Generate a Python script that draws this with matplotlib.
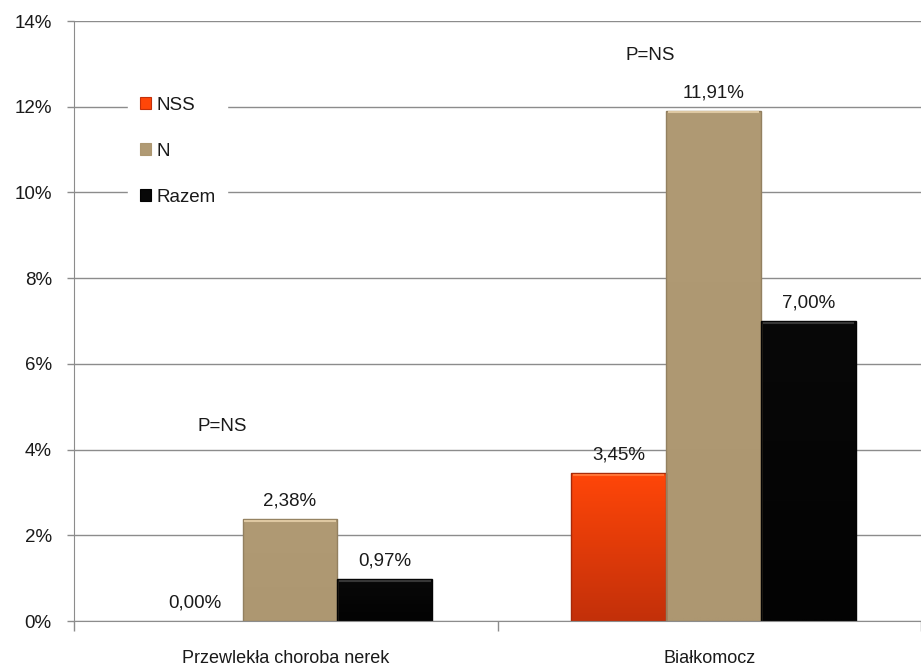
import numpy as np
import matplotlib
matplotlib.use("Agg")
import matplotlib.pyplot as plt
from matplotlib.patches import Rectangle
from matplotlib.colors import to_rgb

categories = ["Przewlekła choroba nerek", "Białkomocz"]
series_names = ["NSS", "N", "Razem"]
nss = [0.00, 3.45]
n_vals = [2.38, 11.91]
razem = [0.97, 7.00]
p_labels = ["P=NS", "P=NS"]
yticks = [0, 2, 4, 6, 8, 10, 12, 14]

plt.rcParams["font.family"] = ["Liberation Sans", "DejaVu Sans"]

# top / bottom colours for each series' vertical gradient
grad = {
    "NSS": ("#ff4608", "#c3300a"),
    "N": ("#b09a74", "#ad9771"),
    "Razem": ("#080808", "#030303"),
}
TXT = "#1a1a1a"
FS = 13.5

fig = plt.figure(figsize=(9.21, 6.68), dpi=100)
ax = fig.add_axes([74 / 921, 1 - 621 / 668, 1 - 74 / 921, (621 - 21) / 668])

bw = 0.224
shift = 0.01
offsets = [-bw + shift, shift, bw + shift]
x = np.arange(len(categories))


def gradient_bar(xc, h, name):
    top, bot = (np.array(to_rgb(c)) for c in grad[name])
    rect = Rectangle((xc - bw / 2, 0), bw, h, facecolor=top, edgecolor="none", zorder=3)
    ax.add_patch(rect)
    if h <= 0:
        return rect
    t = np.linspace(0, 1, 64)[:, None]
    img = top[None, :] * (1 - t) + bot[None, :] * t
    im = ax.imshow(img[:, None, :], extent=(xc - bw / 2, xc + bw / 2, 0, h), origin="upper",
                   aspect="auto", zorder=3.1, interpolation="bilinear")
    im.set_clip_path(rect)
    # bevelled rim
    ax.add_patch(Rectangle((xc - bw / 2, 0), bw, h, facecolor="none",
                           edgecolor=tuple(np.clip(bot * 0.85, 0, 1)), lw=1.0, zorder=3.3))
    ax.plot([xc - bw / 2 + 0.004, xc + bw / 2 - 0.004], [h - 0.04, h - 0.04],
            color=tuple(np.clip(top + 0.18, 0, 1)), lw=1.5, zorder=3.4, solid_capstyle="butt")
    return rect


for vals, name, off in zip([nss, n_vals, razem], series_names, offsets):
    for xi, v in zip(x, vals):
        gradient_bar(xi + off, v, name)
        ax.text(xi + off, v + 0.22, f"{v:.2f}%".replace(".", ","), ha="center", va="bottom",
                fontsize=FS, color=TXT, zorder=5)

ax.text(-0.15, 4.35, p_labels[0], ha="center", va="bottom", fontsize=FS, color=TXT)
ax.text(0.86, 13.0, p_labels[1], ha="center", va="bottom", fontsize=FS, color=TXT)

ax.set_xlim(-0.5, 1.5 - 3 / 425)
ax.set_ylim(0, 14)
ax.set_yticks(yticks)
ax.set_yticklabels([f"{t}%" for t in yticks], fontsize=FS, color=TXT)
ax.set_xticks(x)
ax.set_xticklabels(categories, fontsize=13, color=TXT)
ax.tick_params(axis="x", length=0, pad=21)
ax.set_xticks([-0.5, 0.5, 1.5], minor=True)
ax.tick_params(axis="x", which="minor", length=7, color="#8c8c8c", width=1)
ax.tick_params(axis="y", length=5, color="#8c8c8c", width=1, pad=11)
ax.yaxis.grid(True, color="#8c8c8c", lw=1)
ax.set_axisbelow(True)
for s in ["top", "right"]:
    ax.spines[s].set_visible(False)
for s in ["left", "bottom"]:
    ax.spines[s].set_color("#8c8c8c")
ax.spines["bottom"].set_zorder(4)

handles = [Rectangle((0, 0), 1, 1, facecolor=grad[nm][0], edgecolor=grad[nm][1], lw=0.8)
           for nm in series_names]
leg = ax.legend(handles, series_names, loc="upper left",
                bbox_to_anchor=(119 / 921, 1 - 76 / 668), bbox_transform=fig.transFigure,
                frameon=True, fancybox=False, framealpha=1, edgecolor="white",
                fontsize=FS, handlelength=0.6, handleheight=0.6, handletextpad=0.3,
                labelspacing=1.55, borderpad=0.6)
for t in leg.get_texts():
    t.set_color(TXT)
leg.set_zorder(6)

fig.savefig("out.png", dpi=100, facecolor="white")
